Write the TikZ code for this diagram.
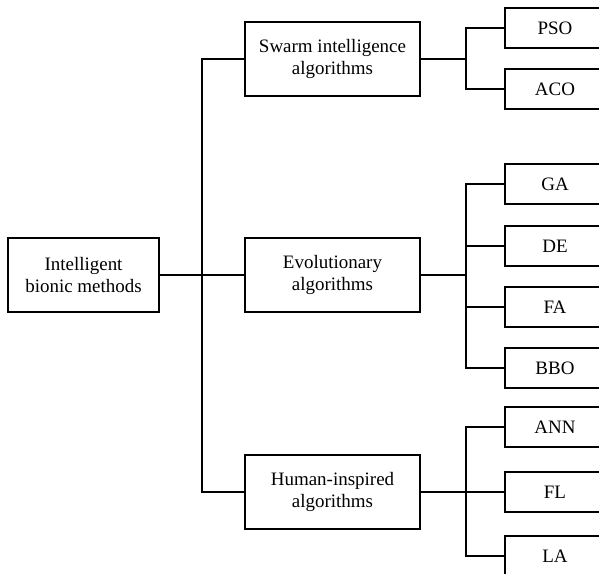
\documentclass[tikz,border=0pt]{standalone}
\usepackage{fontspec}
\setmainfont{Liberation Serif}
\begin{document}
\begin{tikzpicture}[x=0.02cm,y=-0.02cm,line width=0.6pt,
  box/.style={draw,align=center,inner sep=0pt,font=\fontsize{10.8}{13}\selectfont},
  rootbox/.style={box,minimum width=3.02cm,minimum height=1.48cm},
  groupbox/.style={box,minimum width=3.5cm,minimum height=1.48cm},
  leafbox/.style={box,minimum width=2cm,minimum height=0.8cm}]
\clip (0,0) rectangle (599,574);

\node[rootbox] (root) at (83.5,275) {Intelligent\\bionic methods};

\node[groupbox] (swarm) at (332.5,59) {Swarm intelligence\\algorithms};
\node[groupbox] (evo) at (332.5,275) {Evolutionary\\algorithms};
\node[groupbox] (human) at (332.5,492) {Human-inspired\\algorithms};

\node[leafbox] (pso) at (555,28) {PSO};
\node[leafbox] (aco) at (555,89) {ACO};

\node[leafbox] (ga) at (555,184) {GA};
\node[leafbox] (de) at (555,246) {DE};
\node[leafbox] (fa) at (555,307) {FA};
\node[leafbox] (bbo) at (555,368) {BBO};

\node[leafbox] (ann) at (555,427) {ANN};
\node[leafbox] (fl) at (555,492) {FL};
\node[leafbox] (la) at (555,556) {LA};

% trunk from the root to the three groups
\coordinate (trunk) at (202,275);
\draw (root.east) -- (evo.west);
\draw (swarm.west) -| (trunk) |- (human.west);

% branches to the methods
\coordinate (br1) at (466,59);
\coordinate (br2) at (466,275);
\coordinate (br3) at (466,492);

\draw (swarm.east) -- (br1);
\draw (pso.west) -| (br1) |- (aco.west);

\draw (evo.east) -- (br2);
\draw (ga.west) -| (br2) |- (bbo.west);
\foreach \n in {de,fa}
  \draw (\n.west) -- (\n.west -| br2);

\draw (human.east) -- (fl.west);
\draw (ann.west) -| (br3) |- (la.west);
\end{tikzpicture}
\end{document}
